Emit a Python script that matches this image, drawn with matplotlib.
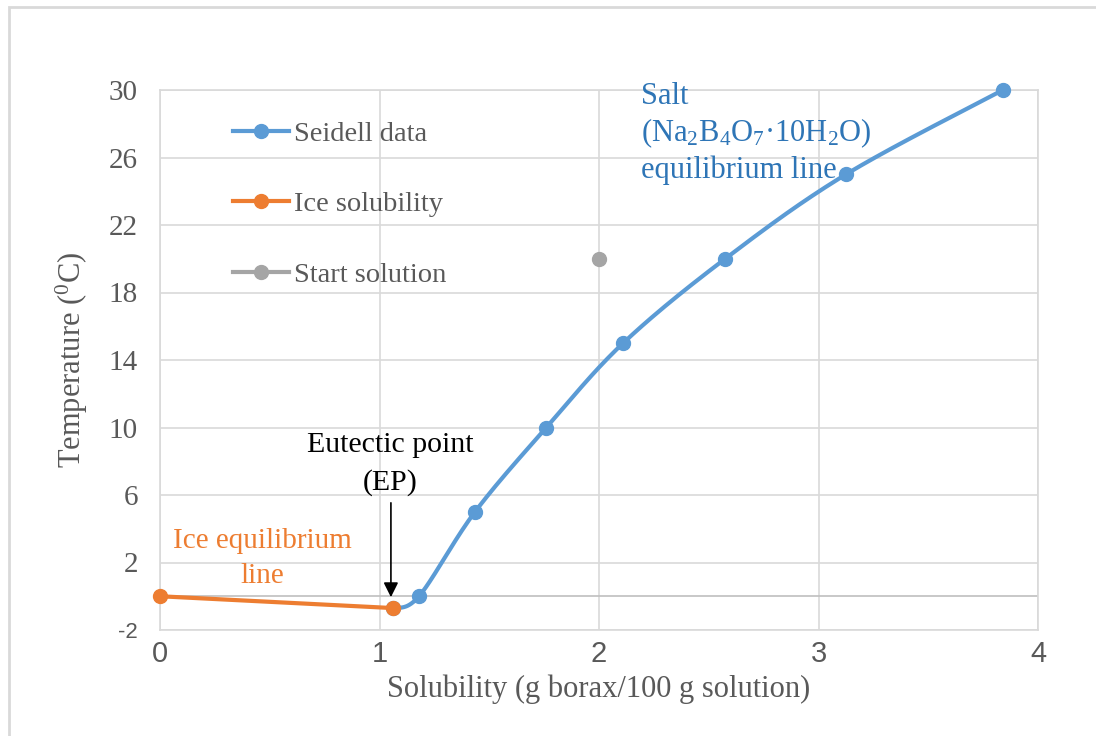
import numpy as np
import matplotlib
matplotlib.use("Agg")
from matplotlib import pyplot as plt
from matplotlib.patches import Rectangle

plt.rcParams['font.family'] = ['Liberation Serif', 'DejaVu Serif']
plt.rcParams['mathtext.fontset'] = 'custom'
plt.rcParams['mathtext.rm'] = 'Liberation Serif'
plt.rcParams['mathtext.it'] = 'Liberation Serif:italic'
plt.rcParams['axes.unicode_minus'] = False

# Seidell solubility data (first point = eutectic)
seidell_x = [1.06, 1.18, 1.435, 1.76, 2.11, 2.575, 3.125, 3.84]
seidell_t = [-0.7, 0, 5, 10, 15, 20, 25, 30]

# ice solubility line
ice_x = [0, 1.06]
ice_t = [0, -0.7]

# start solution
start_x = [2.0]
start_t = [20]

xticks = [0, 1, 2, 3, 4]
yticks = [-2, 2, 6, 10, 14, 18, 22, 26, 30]

blue = '#5B9BD5'
orange = '#ED7D31'
grey = '#A5A5A5'
txt = '#595959'


def smooth(x, y, sx, sy, n=40):
    # excel style smoothed line: bezier with catmull-rom control points
    p = np.column_stack([np.asarray(x) * sx, np.asarray(y) * sy])
    out = [p[0]]
    for i in range(len(p) - 1):
        p0 = p[i - 1] if i > 0 else p[i]
        p3 = p[i + 2] if i + 2 < len(p) else p[i + 1]
        c1 = p[i] + (p[i + 1] - p0) / 6
        c2 = p[i + 1] - (p3 - p[i]) / 6
        t = np.linspace(0, 1, n)[1:, None]
        seg = ((1 - t) ** 3 * p[i] + 3 * (1 - t) ** 2 * t * c1
               + 3 * (1 - t) * t ** 2 * c2 + t ** 3 * p[i + 1])
        out.extend(seg)
    out = np.array(out)
    return out[:, 0] / sx, out[:, 1] / sy


fig = plt.figure(figsize=(10.96, 7.36), dpi=100)
fig.patches.append(Rectangle((9 / 1096, -0.1), 1.2, 1.1 - 7 / 736,
                             transform=fig.transFigure, fill=False,
                             edgecolor='#d9d9d9', linewidth=2))
ax = fig.add_axes([160 / 1096, 106 / 736, 878 / 1096, 540 / 736])

ax.set_xlim(0, 4)
ax.set_ylim(-2, 30)
ax.set_xticks(xticks)
ax.set_yticks(yticks)
ax.grid(True, color='#d9d9d9', linewidth=1.2)
ax.set_axisbelow(True)
for s in ax.spines.values():
    s.set_color('#d9d9d9')
    s.set_linewidth(1.2)
ax.axhline(0, color='#bfbfbf', linewidth=1.2, zorder=1)
ax.tick_params(length=0, labelsize=21, labelcolor=txt)
ax.tick_params(axis='x', pad=7)
ax.tick_params(axis='y', pad=16)
for lab in ax.get_xticklabels():
    lab.set_family('Liberation Sans')
    lab.set_fontsize(21)
ylabs = ax.get_yticklabels()
ylabs[0].set_family('Liberation Sans')
ylabs[0].set_fontsize(16)

sx, sy = 878 / 4, 540 / 32
bx, by = smooth(seidell_x, seidell_t, sx, sy)
ax.plot(bx, by, color=blue, linewidth=3, zorder=3, clip_on=False)
ax.plot(seidell_x, seidell_t, 'o', color=blue, markersize=10, zorder=3, clip_on=False)
ax.plot(ice_x, ice_t, '-o', color=orange, linewidth=3, markersize=10, zorder=4,
        clip_on=False)
ax.plot(start_x, start_t, 'o', color=grey, markersize=10, zorder=4)

# legend entries
h1, = ax.plot([], [], '-o', color=blue, linewidth=3, markersize=10)
h2, = ax.plot([], [], '-o', color=orange, linewidth=3, markersize=10)
h3, = ax.plot([], [], '-o', color=grey, linewidth=3, markersize=10)
leg = ax.legend([h1, h2, h3], ['Seidell data', 'Ice solubility', 'Start solution'],
                loc='upper left', bbox_to_anchor=(0.054, 0.99), frameon=False,
                fontsize=20.5, handlelength=1.95, handletextpad=0.18, labelspacing=1.56)
for t in leg.get_texts():
    t.set_color(txt)

ax.set_xlabel('Solubility (g borax/100 g solution)', fontsize=22, color=txt, labelpad=5)
ax.set_ylabel(r'Temperature ($^{0}$C)', fontsize=22, color=txt, labelpad=13)

saltc = '#2E75B6'
ax.text(2.19, 29.59, 'Salt', color=saltc, fontsize=22, va='center', ha='left')
ax.text(2.19, 27.45, r'(Na$_2$B$_4$O$_7$·10H$_2$O)', color=saltc, fontsize=22,
        va='center', ha='left')
ax.text(2.19, 25.26, 'equilibrium line', color=saltc, fontsize=22, va='center', ha='left')

ax.text(1.048, 8.96, 'Eutectic point', color='black', fontsize=21.5, ha='center', va='center')
ax.text(1.048, 6.71, '(EP)', color='black', fontsize=21.5, ha='center', va='center')
ax.annotate('', xy=(1.052, -0.22), xytext=(1.052, 5.7),
            arrowprops=dict(arrowstyle='-|>', color='black', lw=1.2, mutation_scale=22))

ax.text(0.465, 3.27, 'Ice equilibrium', color=orange, fontsize=21, ha='center', va='center')
ax.text(0.465, 1.2, 'line', color=orange, fontsize=21, ha='center', va='center')

fig.savefig('out.png', dpi=100)
